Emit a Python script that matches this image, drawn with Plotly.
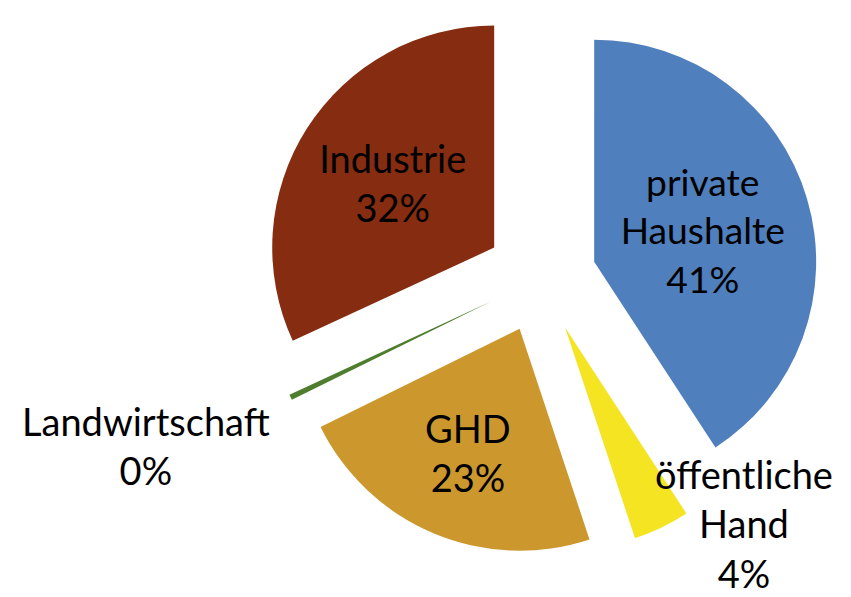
import plotly.graph_objects as go

# Energy use share by sector
labels = ["private<br>Haushalte", "öffentliche<br>Hand", "GHD", "Landwirtschaft", "Industrie"]
shares = [40.8, 4.1, 22.8, 0.4, 31.9]
colors = ["#4F7FBC", "#F4E421", "#CC982D", "#4E7D2E", "#852C11"]

# small slices get their label beside the pie instead of inside
outside_labels = {"öffentliche<br>Hand": (0.874, 0.123), "Landwirtschaft": (0.172, 0.253)}
text_positions = ["none" if lab in outside_labels else "inside" for lab in labels]

font = dict(family="Lato", size=38, color="black")

fig = go.Figure(
    go.Pie(
        labels=labels,
        values=shares,
        sort=False,
        direction="clockwise",
        rotation=0,
        pull=0.25,
        automargin=False,
        marker=dict(colors=colors, line=dict(width=0)),
        texttemplate="%{label}<br>%{percent:.0%}",
        textposition=text_positions,
        insidetextorientation="horizontal",
        textfont=font,
        domain=dict(x=[0.2714, 1.0], y=[0.0704, 1]),
    )
)

total = sum(shares)
for lab, val in zip(labels, shares):
    if lab in outside_labels:
        x, y = outside_labels[lab]
        fig.add_annotation(
            text=f"{lab}<br>{round(val / total * 100)}%",
            x=x,
            y=y,
            xref="paper",
            yref="paper",
            xanchor="center",
            yanchor="middle",
            showarrow=False,
            align="center",
            font=font,
        )

fig.update_layout(
    width=851,
    height=597,
    margin=dict(l=0, r=0, t=0, b=0, autoexpand=False),
    showlegend=False,
    paper_bgcolor="white",
)

fig.write_html(
    "out.html",
    config={"displayModeBar": False},
    post_script="document.body.style.margin = '0';",
)
